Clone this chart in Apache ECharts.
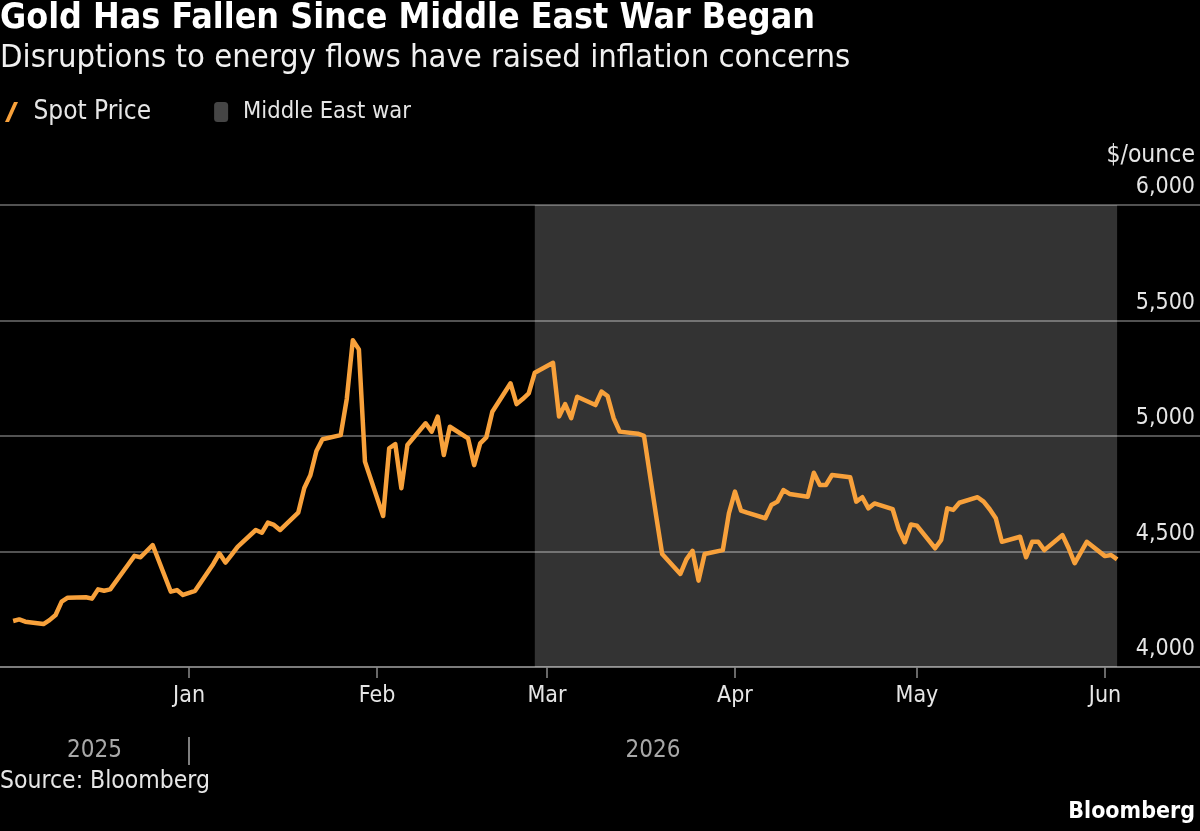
<!DOCTYPE html>
<html>
<head>
<meta charset="utf-8">
<title>Gold Has Fallen Since Middle East War Began</title>
<script src="https://cdn.jsdelivr.net/npm/echarts@6/dist/echarts.min.js"></script>
<style>
  html, body { margin: 0; padding: 0; background: #000; }
  #chart { width: 1200px; height: 831px; }
</style>
</head>
<body>
<div id="chart"></div>
<script>
// data (gold spot, $/ounce)
var dates = [
  '2025-12-03','2025-12-04','2025-12-05','2025-12-08','2025-12-09','2025-12-10','2025-12-11','2025-12-12',
  '2025-12-15','2025-12-16','2025-12-17','2025-12-18','2025-12-19','2025-12-22','2025-12-23','2025-12-24',
  '2025-12-26','2025-12-29','2025-12-30','2025-12-31','2026-01-02','2026-01-05','2026-01-06','2026-01-07',
  '2026-01-08','2026-01-09','2026-01-12','2026-01-13','2026-01-14','2026-01-15','2026-01-16','2026-01-19',
  '2026-01-20','2026-01-21','2026-01-22','2026-01-23','2026-01-26','2026-01-27','2026-01-28','2026-01-29',
  '2026-01-30','2026-02-02','2026-02-03','2026-02-04','2026-02-05','2026-02-06','2026-02-09','2026-02-10',
  '2026-02-11','2026-02-12','2026-02-13','2026-02-16','2026-02-17','2026-02-18','2026-02-19','2026-02-20',
  '2026-02-23','2026-02-24','2026-02-25','2026-02-26','2026-02-27','2026-03-02','2026-03-03','2026-03-04',
  '2026-03-05','2026-03-06','2026-03-09','2026-03-10','2026-03-11','2026-03-12','2026-03-13','2026-03-16',
  '2026-03-17','2026-03-18','2026-03-19','2026-03-20','2026-03-23','2026-03-24','2026-03-25','2026-03-26',
  '2026-03-27','2026-03-30','2026-03-31','2026-04-01','2026-04-02','2026-04-03','2026-04-06','2026-04-07',
  '2026-04-08','2026-04-09','2026-04-10','2026-04-13','2026-04-14','2026-04-15','2026-04-16','2026-04-17',
  '2026-04-20','2026-04-21','2026-04-22','2026-04-23','2026-04-24','2026-04-27','2026-04-28','2026-04-29',
  '2026-04-30','2026-05-01','2026-05-04','2026-05-05','2026-05-06','2026-05-07','2026-05-08','2026-05-11',
  '2026-05-12','2026-05-13','2026-05-14','2026-05-15','2026-05-18','2026-05-19','2026-05-20','2026-05-21',
  '2026-05-22','2026-05-25','2026-05-26','2026-05-27','2026-05-28','2026-05-29','2026-06-01','2026-06-02',
  '2026-06-03'
];
var spotPrice = [
  4199,4206,4196,4186,4203,4225,4283,4300,
  4302,4296,4336,4330,4336,4445,4481,4475,
  4528,4326,4333,4312,4330,4446,4492,4452,
  4485,4520,4593,4581,4625,4615,4593,4668,
  4775,4830,4935,4986,5004,5160,5415,5375,
  4889,4654,4947,4965,4774,4961,5055,5019,
  5084,4918,5040,4990,4874,4968,4994,5105,
  5228,5138,5160,5185,5274,5317,5084,5138,
  5077,5170,5134,5192,5173,5077,5019,5010,
  5001,4828,4655,4489,4403,4466,4503,4374,
  4489,4506,4665,4759,4677,4668,4644,4701,
  4716,4766,4749,4737,4841,4788,4788,4831,
  4821,4716,4735,4687,4708,4683,4596,4540,
  4617,4612,4514,4550,4687,4680,4711,4735,
  4716,4683,4644,4542,4564,4475,4542,4542,
  4506,4571,4515,4449,4495,4542,4480,4485,
  4466
];
var warStart = '2026-02-27';
var monthTicks = ['2026-01-01','2026-02-01','2026-03-01','2026-04-01','2026-05-01','2026-06-01'];
var monthLabels = ['Jan','Feb','Mar','Apr','May','Jun'];
var yearLabels = ['2025','2026'];

var FONT = "'DejaVu Sans Condensed', 'DejaVu Sans', sans-serif";

function toTime(s) {
  var p = s.split('-');
  return new Date(+p[0], +p[1] - 1, +p[2]).getTime();
}

var HOUR = 3600e3;
var axisMin = toTime('2025-12-01') - 4 * HOUR;
var axisMax = toTime('2026-06-16') + 16 * HOUR;
var monthTimes = monthTicks.map(toTime);
var yearBreak = monthTimes[0];
var lastTime = toTime(dates[dates.length - 1]);
// year labels sit in the middle of each year's stretch
var yearTimes = [(axisMin + yearBreak) / 2, (yearBreak + lastTime) / 2];

var seriesData = dates.map(function (d, i) { return [toTime(d), spotPrice[i]]; });

var myChart = echarts.init(document.getElementById('chart'));

var option = {
  backgroundColor: '#000',
  animation: false,
  title: [{
    text: 'Gold Has Fallen Since Middle East War Began',
    left: 0, top: 1, padding: 0,
    textStyle: { color: '#fff', fontFamily: FONT, fontWeight: 'bold', fontSize: 35.5 }
  }, {
    text: 'Disruptions to energy flows have raised inflation concerns',
    left: 0, top: 42, padding: 0,
    textStyle: { color: '#f0f0f0', fontFamily: FONT, fontWeight: 'normal', fontSize: 32.5 }
  }],
  legend: {
    left: 5, top: 99, padding: 0,
    itemWidth: 14, itemHeight: 20, itemGap: 63,
    selectedMode: false,
    textStyle: { color: '#e6e6e6', fontFamily: FONT, fontSize: 26, padding: [0, 0, 0, 10] },
    data: [
      { name: 'Spot Price', icon: 'path://M0,20 L9,0 L13,0 L4,20 Z' },
      { name: 'Middle East war', icon: 'roundRect', itemStyle: { color: '#454545' },
        textStyle: { fontSize: 23.5, padding: [0, 0, 0, 10] } }
    ]
  },
  graphic: [{
    type: 'text', right: 5, top: 143,
    style: { text: '$/ounce', fill: '#e6e6e6', font: '24.5px ' + FONT }
  }, {
    type: 'text', left: 0, top: 769,
    style: { text: 'Source: Bloomberg', fill: '#e6e6e6', font: '24.5px ' + FONT }
  }, {
    type: 'text', right: 5, top: 801,
    style: { text: 'Bloomberg', fill: '#fff', font: 'bold 23px ' + FONT }
  }],
  grid: { left: 0, right: 0, top: 205, bottom: 164, containLabel: false },
  xAxis: [{
    type: 'value',
    min: axisMin, max: axisMax,
    axisLine: { show: true, onZero: false, lineStyle: { color: '#8a8a8a', width: 1.5 } },
    axisTick: { show: true, length: 11, lineStyle: { color: '#8a8a8a', width: 1.5 }, customValues: monthTimes },
    axisLabel: {
      customValues: monthTimes,
      color: '#e6e6e6', fontFamily: FONT, fontSize: 23, margin: 18,
      formatter: function (v) { return monthLabels[monthTimes.indexOf(v)] || ''; }
    },
    splitLine: { show: false }
  }, {
    type: 'value',
    position: 'bottom', offset: 70,
    min: axisMin, max: axisMax,
    axisLine: { show: false, onZero: false },
    axisTick: { show: true, length: 28, lineStyle: { color: '#aaa', width: 1.5 }, customValues: [yearBreak] },
    axisLabel: {
      customValues: yearTimes,
      color: '#a8a8a8', fontFamily: FONT, fontSize: 24, margin: 2,
      formatter: function (v) { return yearLabels[yearTimes.indexOf(v)] || ''; }
    },
    splitLine: { show: false }
  }],
  yAxis: {
    type: 'value',
    position: 'right',
    min: 4000, max: 6000, interval: 500,
    axisLine: { show: false },
    axisTick: { show: false },
    splitLine: { lineStyle: { color: '#6e6e6e', width: 1.5 } },
    axisLabel: {
      inside: true, margin: 5, verticalAlign: 'bottom', padding: [0, 0, 6, 0],
      showMinLabel: true, showMaxLabel: true,
      color: '#e6e6e6', fontFamily: FONT, fontSize: 23,
      formatter: function (v) { return v.toLocaleString('en-US'); }
    }
  },
  series: [{
    name: 'Middle East war',
    type: 'line',
    data: [],
    itemStyle: { color: '#454545' },
    markArea: {
      silent: true,
      itemStyle: { color: 'rgba(255,255,255,0.2)' },
      data: [[{ xAxis: toTime(warStart) }, { xAxis: lastTime }]]
    }
  }, {
    name: 'Spot Price',
    type: 'line',
    data: seriesData,
    showSymbol: false,
    symbol: 'none',
    color: '#f8a13b',
    lineStyle: { color: '#f8a13b', width: 4.5, join: 'round' },
    z: 5
  }]
};

myChart.setOption(option);
</script>
</body>
</html>
